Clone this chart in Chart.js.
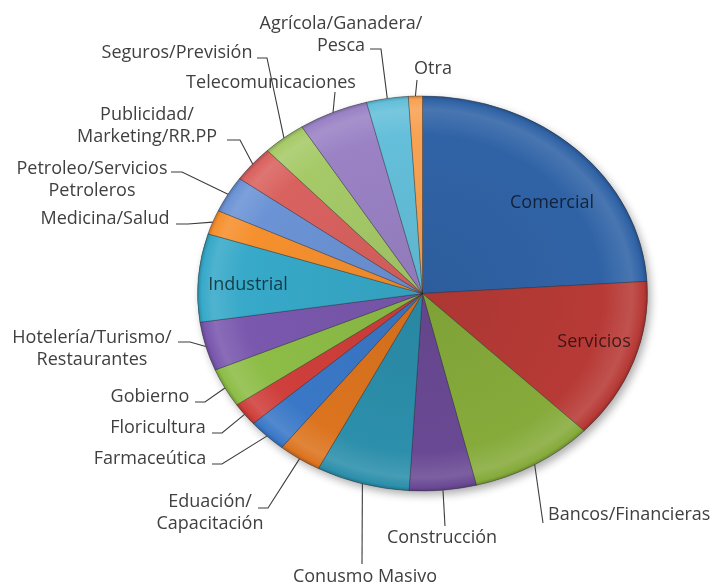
<!DOCTYPE html>
<html>
<head>
<meta charset="utf-8">
<script src="https://cdn.jsdelivr.net/npm/chart.js@4.4.1/dist/chart.umd.min.js"></script>
<style>
  html, body { margin: 0; padding: 0; background: #ffffff; }
  canvas { display: block; }
</style>
</head>
<body>
<canvas id="chart" width="715" height="585"></canvas>
<script>
// Sectors (clockwise from 12 o'clock)
const categories = [
  'Comercial', 'Servicios', 'Bancos/Financieras', 'Construcción', 'Conusmo Masivo',
  'Eduación/Capacitación', 'Farmaceútica', 'Floricultura', 'Gobierno',
  'Hotelería/Turismo/Restaurantes', 'Industrial', 'Medicina/Salud',
  'Petroleo/Servicios Petroleros', 'Publicidad/Marketing/RR.PP', 'Seguros/Previsión',
  'Telecomunicaciones', 'Agrícola/Ganadera/Pesca', 'Otra'
];

// Share of companies per sector (%)
const shares = [24.0, 13.2, 8.9, 4.8, 6.7, 3.1, 2.8, 1.9, 3.2, 4.0, 7.2, 2.0, 3.0, 3.0, 3.1, 5.0, 3.0, 1.0];

// Label text, split into the lines it is printed on
const labelLines = [
  ['Comercial'], ['Servicios'], ['Bancos/Financieras'], ['Construcción'], ['Conusmo Masivo'],
  ['Eduación/', 'Capacitación'], ['Farmaceútica'], ['Floricultura'], ['Gobierno'],
  ['Hotelería/Turismo/', 'Restaurantes'], ['Industrial'], ['Medicina/Salud'],
  ['Petroleo/Servicios', 'Petroleros'], ['Publicidad/', 'Marketing/RR.PP'], ['Seguros/Previsión'],
  ['Telecomunicaciones'], ['Agrícola/Ganadera/', 'Pesca'], ['Otra']
];

const sliceColors = [
  '#3063a6', '#b73a36', '#86ab3b', '#6a4994', '#2c8fab', '#dc741f',
  '#3a78c7', '#cf3f3b', '#8dbd47', '#7a58ae', '#37a9c9', '#f6902e',
  '#6b93d5', '#d9625f', '#a6ca68', '#9a82c5', '#64bfda', '#f8a253'
];

// Label placement: text centre (x, y of first line), alignment, leader bends.
// The leader's last point is taken from the slice itself.
const labelLayout = [
  { inside: true, x: 552, y: 203 },
  { inside: true, x: 594, y: 342 },
  { x: 548, y: 515, align: 'left', leader: [[543, 523]] },
  { x: 442, y: 538, leader: [[445, 526]] },
  { x: 365, y: 577, leader: [[362, 564]] },
  { x: 210, y: 502, leader: [[258, 508], [268, 508]] },
  { x: 150, y: 459, leader: [[212, 464], [222, 464]] },
  { x: 158, y: 428, leader: [[212, 433], [222, 433]] },
  { x: 150, y: 397, leader: [[195, 402], [205, 402]] },
  { x: 92, y: 338, leader: [[178, 342], [190, 342]] },
  { inside: true, x: 248, y: 285 },
  { x: 105, y: 219, leader: [[176, 224], [188, 224]] },
  { x: 92, y: 169, leader: [[171, 172], [182, 172]] },
  { x: 147, y: 115, leader: [[227, 140], [240, 140]] },
  { x: 177, y: 53, leader: [[257, 58], [267, 58]] },
  { x: 271, y: 83, leader: [[335, 92]] },
  { x: 341, y: 24, leader: [[370, 49], [381, 49]] },
  { x: 433, y: 69, leader: [[417, 80]] }
];

const FLATTEN = 0.878;       // vertical squash of the pie (tilted view)
const LINE_GAP = 22;
const LABEL_FONT = '18px "Open Sans", "DejaVu Sans", sans-serif';

function shade(hex, amt) {
  const n = parseInt(hex.slice(1), 16);
  let r = (n >> 16) & 255, g = (n >> 8) & 255, b = n & 255;
  const f = c => Math.round(amt >= 0 ? c + (255 - c) * amt : c * (1 + amt));
  return 'rgb(' + f(r) + ',' + f(g) + ',' + f(b) + ')';
}

function pieCenter(chart) {
  const arc = chart.getDatasetMeta(0).data[0];
  return { x: arc.x, y: arc.y, r: arc.outerRadius };
}

// Squash the pie into an ellipse and lay a soft shadow under it
const tiltPlugin = {
  id: 'tilt',
  beforeDatasetsDraw(chart) {
    const ctx = chart.ctx;
    const c = pieCenter(chart);
    ctx.save();
    ctx.translate(c.x, c.y);
    ctx.scale(1, FLATTEN);
    ctx.translate(-c.x, -c.y);
    ctx.save();
    ctx.shadowColor = 'rgba(0,0,0,0.32)';
    ctx.shadowBlur = 9;
    ctx.shadowOffsetX = 3;
    ctx.shadowOffsetY = 4;
    ctx.beginPath();
    ctx.arc(c.x, c.y, c.r, 0, Math.PI * 2);
    ctx.fillStyle = '#6b7fa0';
    ctx.fill();
    ctx.restore();
  },
  afterDatasetsDraw(chart) {
    chart.ctx.restore();
  }
};

// Category labels with leader lines to the rim of each slice
const labelPlugin = {
  id: 'sliceLabels',
  afterDatasetsDraw(chart) {
    const ctx = chart.ctx;
    const arcs = chart.getDatasetMeta(0).data;
    ctx.save();
    ctx.font = LABEL_FONT;
    ctx.textBaseline = 'middle';
    arcs.forEach((arc, i) => {
      const lay = labelLayout[i];
      const lines = labelLines[i];
      if (lay.inside) {
        ctx.fillStyle = 'rgba(0,0,0,0.66)';
        ctx.textAlign = 'center';
        lines.forEach((t, k) => ctx.fillText(t, lay.x, lay.y + k * LINE_GAP));
        return;
      }
      const mid = (arc.startAngle + arc.endAngle) / 2;
      const rim = [arc.x + arc.outerRadius * Math.cos(mid),
                   arc.y + arc.outerRadius * Math.sin(mid) * FLATTEN];
      const pts = lay.leader.concat([rim]);
      ctx.strokeStyle = '#3c3c3c';
      ctx.lineWidth = 1.1;
      ctx.beginPath();
      ctx.moveTo(pts[0][0], pts[0][1]);
      for (let k = 1; k < pts.length; k++) ctx.lineTo(pts[k][0], pts[k][1]);
      ctx.stroke();
      ctx.fillStyle = '#3f3f3f';
      ctx.textAlign = lay.align || 'center';
      lines.forEach((t, k) => ctx.fillText(t, lay.x, lay.y + k * LINE_GAP));
    });
    ctx.restore();
  }
};

function bevelFill(context) {
  const base = sliceColors[context.dataIndex];
  const area = context.chart.chartArea;
  if (!area) return base;
  const cx = (area.left + area.right) / 2;
  const cy = (area.top + area.bottom) / 2;
  const r = Math.min(area.width, area.height) / 2;
  const g = context.chart.ctx.createRadialGradient(cx, cy, 0, cx, cy, r);
  g.addColorStop(0, shade(base, -0.06));
  g.addColorStop(0.8, base);
  g.addColorStop(0.93, shade(base, 0.12));
  g.addColorStop(0.98, base);
  g.addColorStop(1, shade(base, -0.22));
  return g;
}

new Chart(document.getElementById('chart'), {
  type: 'pie',
  data: {
    labels: categories,
    datasets: [{
      data: shares,
      backgroundColor: bevelFill,
      borderColor: 'rgba(30,30,30,0.35)',
      borderWidth: 1,
      clip: false
    }]
  },
  options: {
    responsive: false,
    animation: false,
    events: [],
    devicePixelRatio: 1,
    layout: { padding: { left: 197, right: 67, top: 68, bottom: 66 } },
    plugins: {
      legend: { display: false },
      tooltip: { enabled: false }
    }
  },
  plugins: [tiltPlugin, labelPlugin]
});
</script>
</body>
</html>
